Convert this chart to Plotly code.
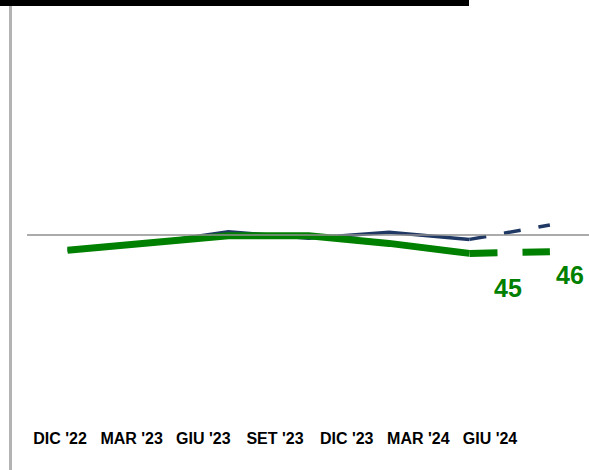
import plotly.graph_objects as go

periods = ["DIC '22", "MAR '23", "GIU '23", "SET '23", "DIC '23", "MAR '24", "GIU '24"]
green_vals = [46.2, 47.9, 49.8, 49.8, 47.9, 45.4, 45.8]
navy_vals = [46.2, 47.9, 50.8, 49.2, 50.7, 48.9, 52.5]
green_labels = {5: "45", 6: "46"}
ref_value = 50

GREEN = "#008000"
NAVY = "#1f3864"

W, H = 589, 470
ml, mr, mt, mb = 11, 0, 6, 45
pw, ph = W - ml - mr, H - mt - mb

idx = list(range(len(periods)))
solid_idx = idx[:-1]
dash_idx = idx[-2:]

fig = go.Figure()
fig.add_trace(go.Scatter(x=solid_idx, y=[navy_vals[i] for i in solid_idx], mode="lines",
                         line=dict(color=NAVY, width=3.5), showlegend=False, hoverinfo="skip"))
fig.add_trace(go.Scatter(x=dash_idx, y=[navy_vals[i] for i in dash_idx], mode="lines",
                         line=dict(color=NAVY, width=3.5, dash="17px,18px"), showlegend=False, hoverinfo="skip"))
fig.add_trace(go.Scatter(x=solid_idx, y=[green_vals[i] for i in solid_idx], mode="lines",
                         line=dict(color=GREEN, width=7), showlegend=False, hoverinfo="skip"))
fig.add_trace(go.Scatter(x=dash_idx, y=[green_vals[i] for i in dash_idx], mode="lines",
                         line=dict(color=GREEN, width=7, dash="28px,25px"), showlegend=False, hoverinfo="skip"))
# carrier trace for the label axis
fig.add_trace(go.Scatter(x=idx, y=[None] * len(idx), xaxis="x2", mode="lines",
                         showlegend=False, hoverinfo="skip"))

shifts = {5: (38, -35), 6: (20, -23)}
for i, txt in green_labels.items():
    dx, dy = shifts[i]
    fig.add_annotation(x=i, y=green_vals[i], text=f"<b>{txt}</b>", showarrow=False,
                       xshift=dx, yshift=dy, font=dict(color=GREEN, size=25, family="Liberation Sans"))

# reference horizontal line
fig.add_shape(type="line", xref="paper", yref="y", x0=16 / pw, x1=1, y0=ref_value, y1=ref_value,
              line=dict(color="#8f8f8f", width=1.5))
# left vertical rule
fig.add_shape(type="line", xref="paper", yref="paper", x0=-0.5 / pw, x1=-0.5 / pw,
              y0=1, y1=-mb / ph - 0.01, line=dict(color="#b3b3b3", width=3))
# top black bar
fig.add_shape(type="rect", xref="paper", yref="paper", x0=-ml / pw, x1=(469 - ml) / pw,
              y0=1, y1=1 + 6 / ph, fillcolor="black", line=dict(width=0))

sp_data = 80.4
r0 = -(67.5 - ml) / sp_data
sp_lab = 71.67
q0 = -(60 - ml) / sp_lab

fig.update_layout(
    width=W, height=H,
    margin=dict(l=ml, r=mr, t=mt, b=mb),
    paper_bgcolor="white", plot_bgcolor="white",
    xaxis=dict(range=[r0, r0 + pw / sp_data], visible=False),
    xaxis2=dict(range=[q0, q0 + pw / sp_lab], overlaying="x", anchor="y", side="bottom",
                tickvals=idx, ticktext=periods, showgrid=False, zeroline=False, showline=False,
                ticks="", tickfont=dict(family="Liberation Sans", size=16, color="black", weight="bold"),
                ticklabelstandoff=2),
    yaxis=dict(range=[ref_value - (H - mb - 235) / 4, ref_value + (235 - mt) / 4], visible=False),
)

fig.write_html("out.html", config={"displayModeBar": False},
               post_script="document.body.style.margin='0';")
